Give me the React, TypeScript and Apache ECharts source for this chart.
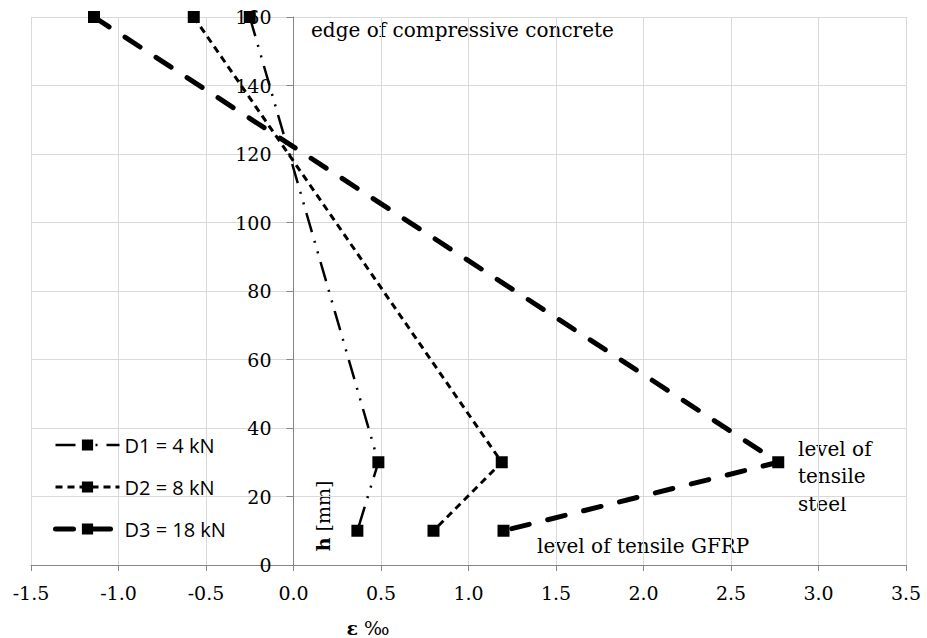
import React, { useEffect, useRef } from "react";
import * as echarts from "echarts";

const heights = [160, 30, 10];
const d1Strain = [-0.25, 0.485, 0.365];
const d2Strain = [-0.57, 1.19, 0.8];
const d3Strain = [-1.14, 2.77, 1.2];
const seriesNames = ["D1 = 4 kN", "D2 = 8 kN", "D3 = 18 kN"];
const xTicks = { min: -1.5, max: 3.5, interval: 0.5 };
const yTicks = { min: 0, max: 160, interval: 20 };

const SERIF = "'DejaVu Serif', serif";
const W = 927;
const H = 638;
const GRID = { left: 31, right: 21, top: 17, bottom: 73 };

export default function App() {
  const ref = useRef<HTMLDivElement>(null);
  useEffect(() => {
    document.body.style.margin = "0";
    if (!ref.current) return;
    const chart = echarts.init(ref.current, null, { renderer: "svg" });
    const mk = (xs: number[]) => xs.map((x, i) => [x, heights[i]]);
    const lineStyles: any[] = [
      { width: 2.5, type: [20, 9, 2, 9, 2, 9], cap: "butt" },
      { width: 3, type: [7, 5], cap: "butt" },
      { width: 5, type: [18, 19], cap: "round" },
    ];
    const datas = [d1Strain, d2Strain, d3Strain];
    const plotW = W - GRID.left - GRID.right;
    const zeroOffset = -((0 - xTicks.min) / (xTicks.max - xTicks.min)) * plotW;
    const option: any = {
      animation: false,
      backgroundColor: "#fff",
      grid: { ...GRID, containLabel: false },
      legend: {
        orient: "vertical",
        left: 48,
        top: 430,
        padding: 5,
        itemWidth: 64,
        itemHeight: 14,
        itemGap: 22,
        data: seriesNames.map((n, i) => ({
          name: n,
          lineStyle: { color: "#000", ...lineStyles[i] },
        })),
        textStyle: { fontFamily: "'Open Sans', sans-serif", fontSize: 20, color: "#000" },
      },
      xAxis: {
        type: "value",
        min: xTicks.min,
        max: xTicks.max,
        interval: xTicks.interval,
        axisLine: { show: true, onZero: false, lineStyle: { color: "#868686", width: 1 } },
        axisTick: { show: true, length: 6, lineStyle: { color: "#868686" } },
        axisLabel: {
          margin: 18,
          fontFamily: SERIF,
          fontSize: 19,
          color: "#000",
          formatter: (v: number) => v.toFixed(1),
        },
        splitLine: { show: true, lineStyle: { color: "#d9d9d9", width: 1 } },
      },
      yAxis: {
        type: "value",
        min: yTicks.min,
        max: yTicks.max,
        interval: yTicks.interval,
        offset: zeroOffset,
        axisLine: { show: true, onZero: false, lineStyle: { color: "#868686", width: 1 } },
        axisTick: { show: true, length: 7, lineStyle: { color: "#868686" } },
        axisLabel: { margin: 22, fontFamily: SERIF, fontSize: 19, color: "#000" },
        splitLine: { show: true, lineStyle: { color: "#d9d9d9", width: 1 } },
      },
      series: datas.map((d, i) => ({
        name: seriesNames[i],
        type: "line",
        data: mk(d),
        symbol: "rect",
        symbolSize: 12,
        itemStyle: { color: "#000" },
        lineStyle: { color: "#000", ...lineStyles[i] },
        z: 3 + i,
      })),
      graphic: [
        {
          type: "text",
          left: 311,
          top: 20,
          style: { text: "edge of compressive concrete", font: `20px ${SERIF}`, fill: "#000" },
        },
        {
          type: "text",
          left: 537,
          top: 536,
          style: { text: "level of tensile GFRP", font: `20px ${SERIF}`, fill: "#000" },
        },
        {
          type: "text",
          left: 798,
          top: 435,
          style: {
            text: "level of\ntensile\nsteel",
            font: `20px ${SERIF}`,
            fill: "#000",
            lineHeight: 27.5,
          },
        },
        {
          type: "text",
          x: 368,
          y: 628,
          style: {
            text: "{b|ε} ‰",
            fill: "#000",
            font: `19px ${SERIF}`,
            align: "center",
            verticalAlign: "middle",
            rich: {
              b: { fontWeight: "bold", fontFamily: SERIF, fontSize: 19, fill: "#000" },
            },
          },
        },
        {
          type: "text",
          x: 323,
          y: 516,
          rotation: Math.PI / 2,
          style: {
            text: "{b|h} [mm]",
            fill: "#000",
            font: `19px ${SERIF}`,
            align: "center",
            verticalAlign: "middle",
            rich: {
              b: { fontWeight: "bold", fontFamily: SERIF, fontSize: 19, fill: "#000" },
            },
          },
        },
      ],
    };
    chart.setOption(option);
    return () => chart.dispose();
  }, []);
  return <div ref={ref} style={{ width: W, height: H }} />;
}
